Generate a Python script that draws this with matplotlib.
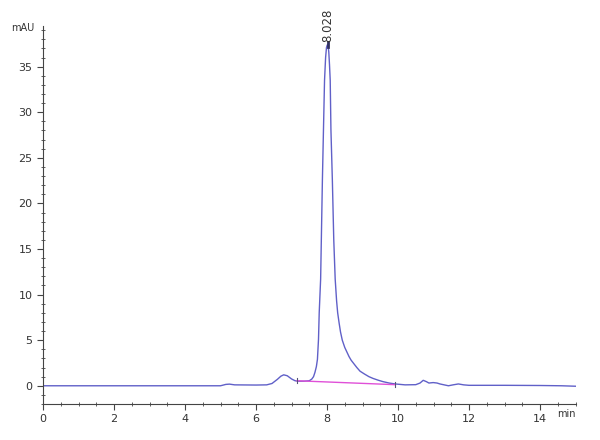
import matplotlib
matplotlib.use("Agg")
import matplotlib.pyplot as plt
from matplotlib.ticker import MultipleLocator

# chromatogram (min, mAU)
tiempo = [0.0, 5.0, 5.15, 5.25, 5.4, 6.0, 6.3, 6.45, 6.6, 6.7, 6.78, 6.88, 7.0, 7.1,
          7.2, 7.35, 7.5, 7.57, 7.62, 7.66, 7.70, 7.73, 7.76, 7.78, 7.82, 7.87, 7.90,
          7.93, 7.96, 7.985, 8.01, 8.03, 8.05, 8.07, 8.09, 8.11, 8.15, 8.19, 8.23,
          8.27, 8.30, 8.34, 8.38, 8.43, 8.5, 8.56, 8.62, 8.68, 8.75, 8.84, 8.93,
          9.05, 9.18, 9.3, 9.45, 9.58, 9.75, 9.92, 10.2, 10.5, 10.62, 10.71, 10.8,
          10.87, 10.99, 11.1, 11.18, 11.3, 11.42, 11.55, 11.70, 11.85, 12.0, 13.0,
          14.0, 14.6, 15.0]
senal = [0.0, 0.0, 0.15, 0.18, 0.1, 0.08, 0.1, 0.25, 0.7, 1.05, 1.2, 1.1, 0.75, 0.55,
         0.5, 0.5, 0.55, 0.73, 1.0, 1.47, 2.1, 2.9, 5.1, 8.0, 11.7, 22.6, 28.1,
         33.5, 36.0, 37.1, 37.4, 37.3, 36.6, 35.2, 33.5, 28.1, 22.6, 16.0, 11.7,
         9.3, 8.0, 6.9, 5.9, 5.0, 4.2, 3.7, 3.2, 2.8, 2.45, 2.0, 1.6,
         1.3, 1.0, 0.8, 0.6, 0.45, 0.3, 0.2, 0.1, 0.12, 0.3, 0.6, 0.45,
         0.3, 0.35, 0.3, 0.2, 0.1, 0.0, 0.1, 0.2, 0.1, 0.05, 0.05,
         0.03, 0.0, -0.05]

# integration baseline
base_t = [7.15, 9.92]
base_v = [0.55, 0.12]

pico_t = 8.028
pico_v = 37.4
pico_label = "8.028"

fig = plt.figure(figsize=(6, 4.4), dpi=100)
ax = fig.add_axes([0.0717, 0.0818, 0.8875, 0.86])

ax.plot(tiempo, senal, color="#6060c8", lw=1.0)
ax.plot(base_t, base_v, color="#e050d8", lw=1.0)
for bt, bv in zip(base_t, base_v):
    ax.plot([bt, bt], [bv - 0.3, bv + 0.3], color="#555577", lw=0.8)

ax.plot([pico_t, pico_t], [pico_v - 0.2, pico_v + 0.3], color="#303060", lw=2.0)
ax.text(pico_t, pico_v + 0.3, pico_label, rotation=90, ha="center", va="bottom",
        fontsize=8.5, color="#333333")

ax.set_xlim(0, 15)
ax.set_ylim(-2, 39.5)

for s in ["top", "right"]:
    ax.spines[s].set_visible(False)
for s in ["left", "bottom"]:
    ax.spines[s].set_color("#444444")
    ax.spines[s].set_linewidth(0.8)

ax.xaxis.set_major_locator(MultipleLocator(2))
ax.xaxis.set_minor_locator(MultipleLocator(0.5))
ax.yaxis.set_major_locator(MultipleLocator(5))
ax.yaxis.set_minor_locator(MultipleLocator(1))
ax.tick_params(which="major", direction="out", length=4, width=0.8,
               colors="#444444", labelsize=8, labelcolor="#333333")
ax.tick_params(which="minor", direction="inout", length=3, width=0.6, colors="#444444")

ax.set_xticks([0, 2, 4, 6, 8, 10, 12, 14])
ax.set_yticks([0, 5, 10, 15, 20, 25, 30, 35])

ax.text(-0.25, 39.2, "mAU", ha="right", va="center", fontsize=7, color="#333333")
ax.text(14.75, -2.6, "min", ha="center", va="top", fontsize=7, color="#333333")

fig.savefig("out.png", dpi=100)
